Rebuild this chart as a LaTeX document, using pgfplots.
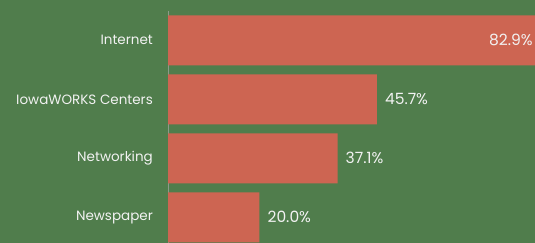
\documentclass[border=0pt]{standalone}
\usepackage{fontspec}
\setmainfont{Poppins}
\usepackage{pgfplots}
\pgfplotsset{compat=1.18}
\definecolor{bg}{RGB}{80,125,76}
\definecolor{barc}{RGB}{205,101,82}
\definecolor{txt}{RGB}{242,242,242}
\definecolor{axl}{RGB}{140,155,138}
\begin{document}
\begin{tikzpicture}[x=1pt,y=1pt]
\useasboundingbox (0,0) rectangle (535,243);
\clip (0,0) rectangle (535,243);
\fill[bg] (0,0) rectangle (535,243);
\begin{axis}[
  at={(168pt,0pt)}, anchor=south west,
  scale only axis, width=367pt, height=232pt,
  bar width=50pt, clip=false,
  xmin=0, xmax=80.31, ymin=-0.4356, ymax=3.4966,
  axis x line=none, axis y line*=left,
  y axis line style={draw=axl, line width=0.8pt, -},
  ytick={0,1,2,3},
  yticklabels={Newspaper, Networking\hspace{4pt}, IowaWORKS Centers, Internet},
  major tick length=0pt,
  yticklabel style={font=\fontsize{13.5}{15}\selectfont, text=txt, inner sep=0pt, anchor=east, xshift=-15pt},
]
\addplot[xbar, fill=barc, draw=none] coordinates {(20.0,0) (37.1,1) (45.7,2) (82.9,3)};
\addplot[draw=none, nodes near coords, point meta=explicit symbolic,
  nodes near coords style={anchor=west, xshift=8pt, inner sep=0pt, text=txt, font=\fontsize{15.5}{17}\selectfont}]
  coordinates {(20.0,0) [20.0\%] (37.1,1) [37.1\%] (45.7,2) [45.7\%]};
\addplot[draw=none, nodes near coords, point meta=explicit symbolic,
  nodes near coords style={anchor=east, xshift=-14pt, inner sep=0pt, text=txt, font=\fontsize{15.5}{17}\selectfont}]
  coordinates {(82.9,3) [82.9\%]};
\end{axis}
\end{tikzpicture}
\end{document}
